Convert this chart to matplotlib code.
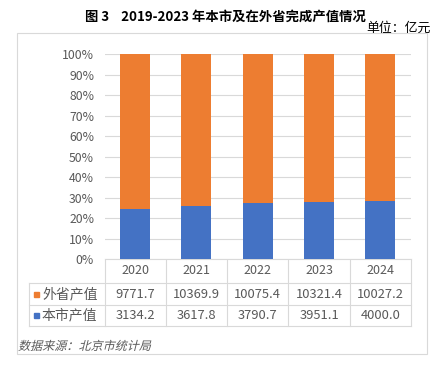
import matplotlib.pyplot as plt
import numpy as np
from matplotlib.textpath import TextPath
from matplotlib.patches import PathPatch
from matplotlib.font_manager import FontProperties
from matplotlib.transforms import Affine2D

plt.rcParams['font.family'] = ['Noto Sans CJK SC', 'DejaVu Sans']

# 数据
years = ['2020', '2021', '2022', '2023', '2024']
local_val = [3134.2, 3617.8, 3790.7, 3951.1, 4000.0]
outside_val = [9771.7, 10369.9, 10075.4, 10321.4, 10027.2]
series_names = ['外省产值', '本市产值']
blue = '#4472C4'
orange = '#ED7D31'
grid_c = '#D9D9D9'
txt_c = '#595959'

W, H = 442, 368
fig = plt.figure(figsize=(W / 100, H / 100), dpi=100)

# 像素坐标的底层画布
bg = fig.add_axes([0, 0, 1, 1])
bg.set_xlim(0, W)
bg.set_ylim(H, 0)
bg.axis('off')

# 外框
bg.add_patch(plt.Rectangle((17, 33), 410, 321, fill=False, ec=grid_c, lw=0.8))

# 标题
bg.text(225, 17, '图 3    2019-2023 年本市及在外省完成产值情况', ha='center', va='center',
        fontsize=9.6, fontweight='bold', color='#000000')
bg.text(431, 28, '单位：亿元', ha='right', va='center', fontsize=9.3, color='#000000')

# 柱状图
x0, x1, y0, y1 = 104.5, 411, 259, 54
ax = fig.add_axes([x0 / W, (H - y0) / H, (x1 - x0) / W, (y0 - y1) / H])
local_val = np.array(local_val)
outside_val = np.array(outside_val)
total = local_val + outside_val
p_local = local_val / total * 100
p_out = outside_val / total * 100
xs = np.arange(len(years))
ax.bar(xs, p_local, width=0.49, color=blue, zorder=3)
ax.bar(xs, p_out, bottom=p_local, width=0.49, color=orange, zorder=3)
ax.set_xlim(-0.5, len(years) - 0.5)
ax.set_ylim(0, 100)
ax.set_yticks(np.arange(0, 101, 10))
ax.set_yticklabels([f'{v}%' for v in range(0, 101, 10)])
ax.yaxis.grid(True, color=grid_c, lw=0.8, zorder=0)
ax.set_xticks([])
for s in ['top', 'right', 'left']:
    ax.spines[s].set_visible(False)
ax.spines['bottom'].set_color(grid_c)
ax.tick_params(axis='y', length=0, labelsize=8.8, labelcolor=txt_c, pad=7.5)

# 数据表
col_edges = np.linspace(x0, x1, len(years) + 1)
row_y = [259, 283, 304.5, 326]
tleft = 28.5
lc = grid_c
for cx in col_edges:
    bg.plot([cx, cx], [row_y[0], row_y[-1]], color=lc, lw=0.8)
bg.plot([tleft, tleft], [row_y[1], row_y[-1]], color=lc, lw=0.8)
for ry in row_y[1:]:
    bg.plot([tleft, x1], [ry, ry], color=lc, lw=0.8)

for i, yr in enumerate(years):
    cx = (col_edges[i] + col_edges[i + 1]) / 2
    bg.text(cx, 271, yr, ha='center', va='center', fontsize=9, color=txt_c)
    bg.text(cx, 294, f'{outside_val[i]:.1f}', ha='center', va='center', fontsize=9.3, color=txt_c)
    bg.text(cx, 315.5, f'{local_val[i]:.1f}', ha='center', va='center', fontsize=9.3, color=txt_c)

for ry, name, c in [(294, series_names[0], orange), (315.5, series_names[1], blue)]:
    bg.add_patch(plt.Rectangle((34, ry - 2.5), 5, 5, color=c))
    bg.text(42, ry, name, ha='left', va='center', fontsize=10, color=txt_c)

# 数据来源（斜体，用倾斜变换模拟）
fp = FontProperties(family='Noto Sans CJK SC', size=8.7)
tp = TextPath((0, 0), '数据来源：北京市统计局', prop=fp)
k = 100 / 72
tr = Affine2D().skew_deg(14, 0).scale(k, -k).translate(18, 350)
bg.add_patch(PathPatch(tr.transform_path(tp), color=txt_c, lw=0))

fig.savefig('out.png', dpi=100)
